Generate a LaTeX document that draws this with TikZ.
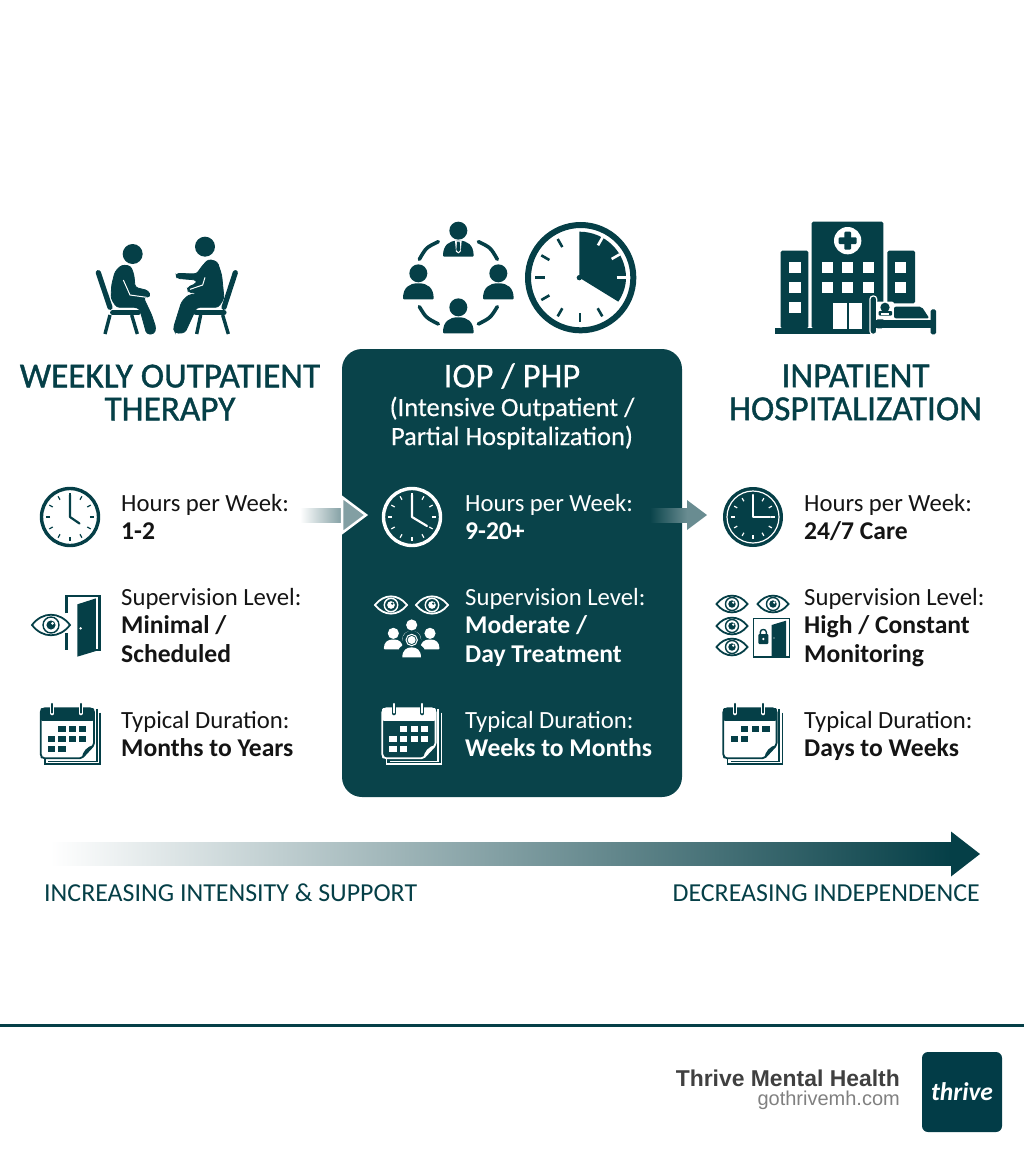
\documentclass[tikz,border=0pt]{standalone}
\usepackage{fontspec}
\setmainfont{Carlito}
\newfontfamily\semifont[FakeBold=1.1]{Carlito}
\newfontfamily\mediumfont[FakeBold=0.3]{Carlito}
\newfontfamily\footfont{Liberation Sans}
\usetikzlibrary{calc}

\definecolor{tealdark}{HTML}{053F47}
\definecolor{panelteal}{HTML}{09434A}
\definecolor{logoteal}{HTML}{023C47}
\definecolor{inktext}{HTML}{141414}

\tikzset{
  coltitle/.style={text=tealdark,font=\fontsize{35.2}{33}\selectfont\semifont,align=center},
  itemtext/.style={anchor=north west,inner sep=0,align=left,text=inktext,font=\fontsize{24.7}{28.6}\selectfont},
  paneltext/.style={itemtext,text=white},
  rampcaption/.style={inner sep=0,text=tealdark,font=\fontsize{25.9}{26}\selectfont},
  iconbox/.style={shift={(#1)},scale=1/3}
}

\newcommand{\itemvalue}[1]{{\fontsize{25.6}{28.6}\selectfont\bfseries #1}}

\newcommand{\clockicon}[6]{%
  \draw[#3,line width=#6] (#1,#2) circle[radius=#4];
  \foreach \a in {0,30,...,330}
    \draw[#3,line width=1.2] ({#1+0.70*#4*sin(\a)},{#2-0.70*#4*cos(\a)}) -- ({#1+0.84*#4*sin(\a)},{#2-0.84*#4*cos(\a)});
  \draw[#3,line width=2.2,line cap=round,line join=round] (#1,#2-22) -- (#1,#2) -- (#5);
}

\newcommand{\eyeicon}[5]{%
  \begin{scope}[shift={(#1,#2)},scale=#3]
    \draw[#4,line width=1.8] (-1,0) .. controls (-0.45,-0.72) and (0.45,-0.72) .. (1,0) .. controls (0.45,0.72) and (-0.45,0.72) .. (-1,0) -- cycle;
    \draw[#4,line width=1.4] (0,0) circle[radius=0.42];
    \fill[#4] (0,0) circle[radius=0.24];
    \fill[#5] (0.08,-0.09) circle[radius=0.08];
  \end{scope}
}

\newcommand{\headcount}[4]{%
  \begin{scope}[shift={(#1,#2)},scale=#3]
    \fill[#4] (0,0) circle[radius=27];
    \fill[#4,rounded corners=1] (-46,78) .. controls (-46,42) and (-26,30) .. (0,30) .. controls (26,30) and (46,42) .. (46,78) -- cycle;
  \end{scope}
}

\newcommand{\calendaricon}[4]{%
  \begin{scope}[iconbox={#1,703.3}]
    \draw[#2,line width=1.7] (168,17) -- (168,175) -- (23,175);
    \draw[#2,line width=1.7] (178,28) -- (178,183) -- (13,183) -- (13,165);
    \fill[#3] (0,15) rectangle (160,165);
    \draw[#2,line width=1.8,rounded corners=2,line join=round] (123,165) -- (6,165) -- (0,159) -- (0,21) -- (6,15) -- (154,15) -- (160,21) -- (160,125) -- cycle;
    \fill[#2,rounded corners=2] (0,15) rectangle (160,53);
    \fill[#2] (160,125) -- (123,165) .. controls (125,145) and (140,128) .. (160,125) -- cycle;
    \draw[#3,line width=4,line cap=round] (35,2) -- (35,30);
    \draw[#3,line width=4,line cap=round] (120,2) -- (120,30);
    \draw[#2,line width=2,line cap=round] (35,2) -- (35,28);
    \draw[#2,line width=2,line cap=round] (120,2) -- (120,28);
    \foreach \gx/\gy in {#4}
      \fill[#2] (\gx,\gy) rectangle ++(22,19);
  \end{scope}
}

\begin{document}
\begin{tikzpicture}[x=1pt,y=-1pt]
  \useasboundingbox (0,0) rectangle (1024,1154);

  \node[fill=panelteal,rounded corners=20,minimum width=340,minimum height=448,inner sep=0] (panel) at (512,573) {};

  \node[coltitle] (weeklytitle) at (170,392.5) {WEEKLY OUTPATIENT\\THERAPY};
  \node[coltitle,text=white,font=\fontsize{34.8}{33}\selectfont\mediumfont] (ioptitle) at (512,376) {IOP / PHP};
  \node[align=center,text=white,font=\fontsize{26.5}{29}\selectfont\mediumfont] (iopsub) at (512,423) {(Intensive Outpatient /\\Partial Hospitalization)};
  \node[coltitle] (inpatienttitle) at (855.5,392.5) {INPATIENT\\HOSPITALIZATION};

  \node[itemtext] (hoursa) at (121,494) {Hours per Week:\\\itemvalue{1-2}};
  \node[itemtext] (supera) at (121,588) {Supervision Level:\\\itemvalue{Minimal /}\\\itemvalue{Scheduled}};
  \node[itemtext] (durationa) at (121,711) {Typical Duration:\\\itemvalue{Months to Years}};
  \node[paneltext] (hoursb) at (465,494) {Hours per Week:\\\itemvalue{9-20+}};
  \node[paneltext] (superb) at (465,588) {Supervision Level:\\\itemvalue{Moderate /}\\\itemvalue{Day Treatment}};
  \node[paneltext] (durationb) at (465,711) {Typical Duration:\\\itemvalue{Weeks to Months}};
  \node[itemtext] (hoursc) at (804,494) {Hours per Week:\\\itemvalue{24/7 Care}};
  \node[itemtext] (superc) at (804,588) {Supervision Level:\\\itemvalue{High / Constant}\\\itemvalue{Monitoring}};
  \node[itemtext] (durationc) at (804,711) {Typical Duration:\\\itemvalue{Days to Weeks}};

  \coordinate (stepastart) at (300,515);
  \coordinate (stepatip) at (366,515);
  \shade[left color=white,right color=tealdark!50] ($(stepastart)+(0,-7)$) rectangle ($(stepatip)+(-24,7)$);
  \fill[tealdark!50,draw=white,line width=2.5] (stepatip) -- ++(-24,-18) -- ++(0,36) -- cycle;
  \coordinate (stepbstart) at (650,515);
  \coordinate (stepbtip) at (707,515);
  \shade[left color=panelteal,right color=tealdark!60] ($(stepbstart)+(0,-7)$) rectangle ($(stepbtip)+(-20,7)$);
  \fill[tealdark!60] (stepbtip) -- ++(-20,-15) -- ++(0,30) -- cycle;

  \coordinate (rampstart) at (50,854);
  \coordinate (ramptip) at (980,854);
  \shade[left color=white,right color=tealdark] ($(rampstart)+(0,-11.5)$) rectangle ($(ramptip)+(-29,11.5)$);
  \fill[tealdark] (ramptip) -- ++(-29,-22.5) -- ++(0,45) -- cycle;
  \node[rampcaption,anchor=west] (rampleft) at (44,893) {INCREASING INTENSITY \& SUPPORT};
  \node[rampcaption,anchor=east] (rampright) at (980,893) {DECREASING INDEPENDENCE};

  \begin{scope}[iconbox={0,200}]
    \fill[tealdark] (398,162) circle[radius=30];
    \fill[tealdark] (615,140) circle[radius=30];
    \fill[tealdark,draw=tealdark,line width=0.8,rounded corners=3] (365,195) -- (392,198) -- (402,225) -- (405,262) -- (445,272) -- (452,290) -- (430,292) -- (455,345) -- (468,385) -- (462,402) -- (440,402) -- (420,330) -- (412,322) -- (350,322) -- (333,295) -- (335,255) -- (345,215) -- cycle;
    \draw[white,line width=1] (370,240) -- (390,285) -- (440,292);
    \fill[tealdark,draw=tealdark,line width=0.8,rounded corners=3] (625,178) -- (652,185) -- (665,225) -- (672,295) -- (655,322) -- (590,322) -- (555,398) -- (527,400) -- (520,385) -- (545,305) -- (565,285) -- (600,280) -- (565,277) -- (562,262) -- (590,250) -- (590,240) -- (530,235) -- (528,220) -- (590,222) -- (605,200) -- cycle;
    \draw[white,line width=1] (615,232) -- (608,255) -- (570,268);
    \draw[tealdark,line width=5.2,line cap=round] (295,218) -- (330,322);
    \draw[tealdark,line width=5.2,line cap=round] (338,338) -- (415,338);
    \draw[tealdark,line width=3.4] (330,345) -- (315,402);
    \draw[tealdark,line width=3.4] (395,345) -- (412,402);
    \draw[tealdark,line width=5.2,line cap=round] (706,218) -- (672,322);
    \draw[tealdark,line width=5.2,line cap=round] (588,338) -- (672,338);
    \draw[tealdark,line width=3.4] (602,345) -- (590,402);
    \draw[tealdark,line width=3.4] (668,345) -- (685,402);
  \end{scope}

  \begin{scope}[iconbox={340,200}]
    \headcount{355}{92}{1}{tealdark}
    \fill[white] (345,122) -- (365,122) -- (362,155) -- (355,160) -- (348,155) -- cycle;
    \fill[tealdark] (351,125) -- (359,125) -- (361,150) -- (355,156) -- (349,150) -- cycle;
    \headcount{235}{220}{1}{tealdark}
    \headcount{475}{220}{1}{tealdark}
    \headcount{355}{322}{1}{tealdark}
    \draw[tealdark,line width=3.6,line cap=round] (415,125) .. controls (451.6,142.6) .. (472,178);
    \draw[tealdark,line width=3.6,line cap=round] (295,125) .. controls (258.4,142.6) .. (238,178);
    \draw[tealdark,line width=3.6,line cap=round] (238,320) .. controls (258.4,353.4) .. (295,372);
    \draw[tealdark,line width=3.6,line cap=round] (472,320) .. controls (451.6,353.4) .. (415,372);
    \draw[tealdark,line width=6] (722,233) circle[radius=158];
    \fill[tealdark] (718,233) -- (718,95) .. controls (796,95) and (858,157) .. (858,233) .. controls (858,258) and (850,282) .. (835,305) -- cycle;
    \fill[tealdark] (718,233) circle[radius=8];
    \foreach \a in {30,60,90}
      \draw[white,line width=2.6] ({718+112*sin(\a)},{233-112*cos(\a)}) -- ({718+140*sin(\a)},{233-140*cos(\a)});
    \foreach \a in {150,180,210,240,270,300,330}
      \draw[tealdark,line width=2.6] ({720+106*sin(\a)},{233-106*cos(\a)}) -- ({720+134*sin(\a)},{233-134*cos(\a)});
  \end{scope}

  \begin{scope}[iconbox={690,200}]
    \fill[tealdark,rounded corners=1.5] (272,385) |- (355,152) -- (355,385) -- cycle;
    \fill[tealdark,rounded corners=1.5] (365,385) |- (580,65) -- (580,385) -- cycle;
    \fill[tealdark,rounded corners=1.5] (592,310) |- (675,152) -- (675,310) -- cycle;
    \fill[tealdark] (255,385) rectangle (545,403);
    \fill[white] (473,122) circle[radius=41];
    \fill[tealdark,rounded corners=1] (463,95) rectangle (483,149);
    \fill[tealdark,rounded corners=1] (446,112) rectangle (500,132);
    \foreach \wx/\wy in {298/187,298/247,298/307,395/187,456/187,518/187,395/247,456/247,518/247,614/187,614/247}
      \fill[white] (\wx,\wy) rectangle ++(34,33);
    \fill[white] (430,308) rectangle (517,387);
    \fill[tealdark] (470,308) rectangle (476,387);
    \fill[white,rounded corners=2] (558,305) rectangle (612,358);
    \fill[tealdark,draw=white,line width=1.2,rounded corners=3] (540,403) -- (540,288) -- (560,288) -- (560,403) -- cycle;
    \fill[tealdark] (585,322) circle[radius=14];
    \fill[tealdark,rounded corners=1] (566,333) rectangle (606,347);
    \fill[white] (572,338) rectangle (598,345);
    \fill[tealdark,rounded corners=2] (612,320) -- (695,320) -- (718,355) -- (612,355) -- cycle;
    \fill[tealdark] (558,360) rectangle (738,385);
    \fill[tealdark,rounded corners=1.5] (722,403) |- (738,328) -- (738,403) -- cycle;
  \end{scope}

  \clockicon{70}{517}{tealdark}{28.5}{79.5,523.5}{3.4}
  \clockicon{412}{517}{white}{28.5}{427,526}{3.4}
  \fill[tealdark] (753,517) circle[radius=30];
  \clockicon{753}{517}{white}{26}{770,517}{1.2}

  \eyeicon{51}{625}{19}{tealdark}{white}
  \begin{scope}[iconbox={0,570}]
    \draw[tealdark,line width=2.6] (200,130) -- (200,78) -- (298,78) -- (298,240) -- (288,240);
    \draw[tealdark,line width=2.6] (200,190) -- (200,240);
    \fill[tealdark] (232,103) -- (288,85) -- (288,243) -- (232,260) -- cycle;
    \fill[white] (242,175) circle[radius=4];
  \end{scope}

  \eyeicon{391}{605}{16}{white}{panelteal}
  \eyeicon{432}{605}{16}{white}{panelteal}
  \begin{scope}[iconbox={350,570}]
    \headcount{185}{165}{0.62}{white}
    \headcount{130}{190}{0.62}{white}
    \headcount{240}{190}{0.62}{white}
    \fill[panelteal] (185,210) circle[radius=28];
    \fill[panelteal] (185,245) ellipse[x radius=40,y radius=26];
    \draw[white,line width=1] (185,210) circle[radius=17];
    \fill[white] (157,262) .. controls (157,240) and (170,232) .. (185,232) .. controls (200,232) and (213,240) .. (213,262) -- cycle;
    \fill[white] (185,210) circle[radius=12];
  \end{scope}

  \eyeicon{732}{604}{15.5}{tealdark}{white}
  \eyeicon{773}{604}{15.5}{tealdark}{white}
  \eyeicon{732}{626}{15.5}{tealdark}{white}
  \eyeicon{732}{647}{15.5}{tealdark}{white}
  \begin{scope}[iconbox={700,570}]
    \draw[tealdark,line width=1.6] (160,145) rectangle (268,261);
    \fill[tealdark] (215,165) -- (258,152) -- (258,258) -- (215,258) -- cycle;
    \fill[white] (222,204) circle[radius=2];
    \fill[tealdark,rounded corners=1] (175,192) rectangle (205,222);
    \draw[tealdark,line width=1.4] (181,192) -- (181,186) .. controls (181,176) and (199,176) .. (199,186) -- (199,192);
    \fill[white] (190,207) circle[radius=4];
  \end{scope}

  \calendaricon{40.7}{tealdark}{white}{53/67,85/67,115/67,21/97,53/97,85/97,115/97,21/127,53/127}
  \calendaricon{382.3}{white}{panelteal}{53/67,85/67,115/67,21/97,53/97,85/97,115/97,21/127,53/127}
  \calendaricon{723.3}{tealdark}{white}{53/67,85/67,117/67,22/97,53/97}

  \draw[tealdark,line width=3] (0,1025) -- (1024,1025);
  \node[fill=logoteal,rounded corners=6,minimum size=80,inner sep=0,text=white,font=\fontsize{25.5}{28}\selectfont\bfseries\itshape] (logo) at (962,1092) {thrive};
  \node[anchor=east,inner sep=0,text=black!75,font=\footfont\fontsize{22.9}{25}\selectfont\bfseries] (brandname) at (900,1078) {Thrive Mental Health};
  \node[anchor=east,inner sep=0,text=black!50,font=\footfont\fontsize{20}{21}\selectfont] (brandurl) at (900,1100) {gothrivemh.com};
\end{tikzpicture}
\end{document}
